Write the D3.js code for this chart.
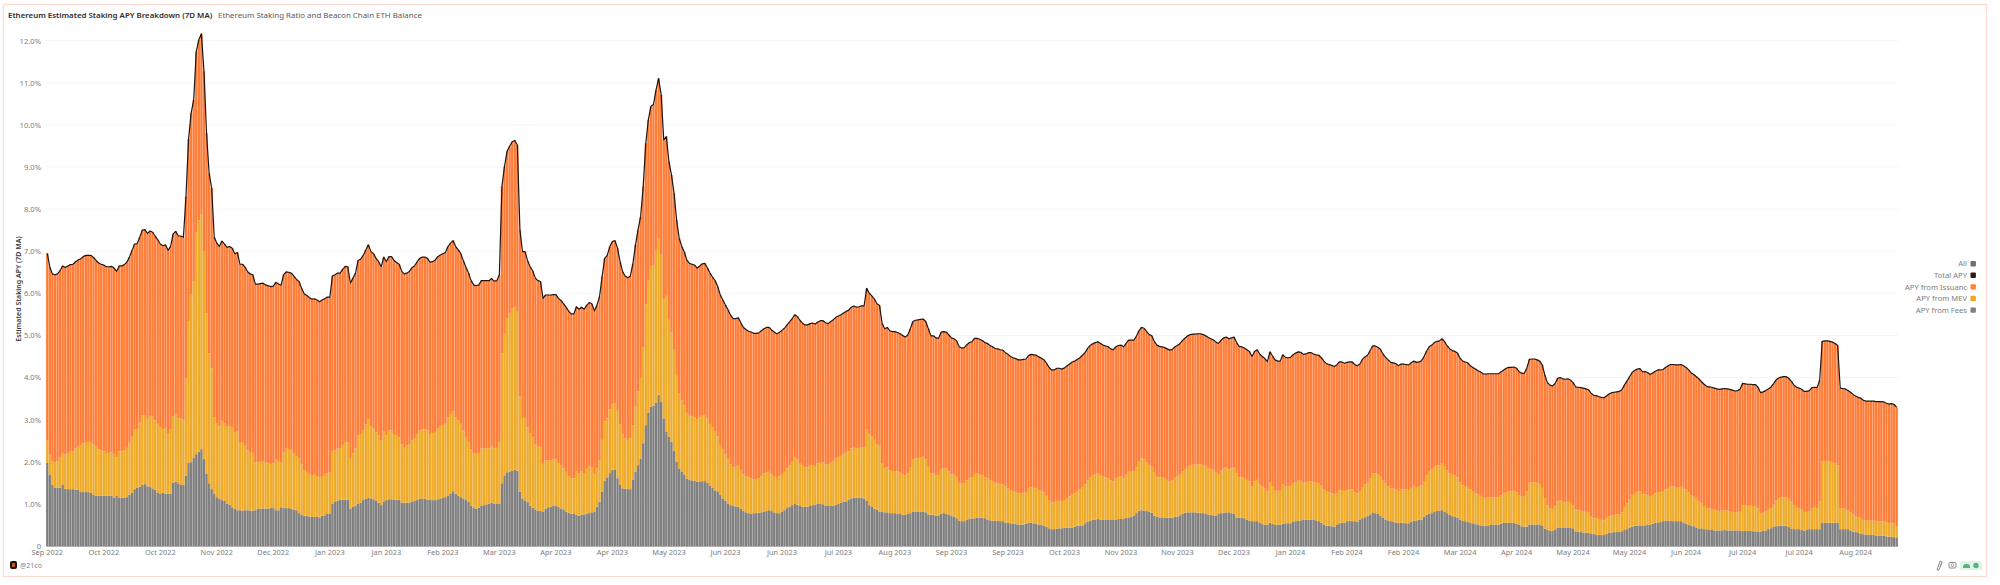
<!DOCTYPE html>
<html>
<head>
<meta charset="utf-8">
<script src="https://cdnjs.cloudflare.com/ajax/libs/d3/7.8.5/d3.min.js"></script>
<style>
  html, body { margin: 0; padding: 0; background: #fff; }
  svg { display: block; }
  text { font-family: "Noto Sans", sans-serif; }
</style>
</head>
<body>
<svg id="chart" width="2000" height="585"></svg>
<script>
const titleLeft = "Ethereum Estimated Staking APY Breakdown (7D MA)";
const titleRight = "Ethereum Staking Ratio and Beacon Chain ETH Balance";
const yAxisTitle = "Estimated Staking APY (7D MA)";

const yTicks = [0, 1, 2, 3, 4, 5, 6, 7, 8, 9, 10, 11, 12];
const xTickLabels = ["Sep 2022", "Oct 2022", "Oct 2022", "Nov 2022", "Dec 2022", "Jan 2023", "Jan 2023", "Feb 2023", "Mar 2023", "Apr 2023", "Apr 2023", "May 2023", "Jun 2023", "Jun 2023", "Jul 2023", "Aug 2023", "Sep 2023", "Sep 2023", "Oct 2023", "Nov 2023", "Nov 2023", "Dec 2023", "Jan 2024", "Feb 2024", "Feb 2024", "Mar 2024", "Apr 2024", "May 2024", "May 2024", "Jun 2024", "Jul 2024", "Jul 2024", "Aug 2024"];
const legendLabels = ["All", "Total APY", "APY from Issuance", "APY from MEV", "APY from Fees"];
const legendColors = ["#6f6f6f", "#2b1a10", "#ff7f3a", "#f5a623", "#7f7f7f"];

// daily values (percent)
const apyFees = [
1.97,1.69,1.45,1.39,1.38,1.38,1.46,1.36,1.35,1.35,
1.35,1.34,1.34,1.28,1.28,1.28,1.28,1.26,1.21,1.20,
1.19,1.19,1.19,1.19,1.19,1.20,1.15,1.20,1.14,1.15,
1.15,1.16,1.22,1.26,1.35,1.38,1.41,1.45,1.47,1.42,
1.41,1.37,1.34,1.26,1.25,1.26,1.24,1.24,1.24,1.50,
1.53,1.49,1.46,1.45,1.67,1.98,1.99,2.10,2.18,2.24,
2.30,2.07,1.72,1.49,1.35,1.25,1.16,1.12,1.09,1.07,
1.00,0.98,0.92,0.89,0.85,0.85,0.84,0.85,0.85,0.84,
0.84,0.85,0.88,0.89,0.89,0.89,0.89,0.90,0.90,0.85,
0.85,0.92,0.91,0.90,0.90,0.88,0.86,0.85,0.78,0.75,
0.72,0.71,0.70,0.69,0.69,0.69,0.68,0.72,0.73,0.76,
0.76,1.01,1.06,1.07,1.10,1.10,1.10,1.10,0.89,0.93,
0.95,1.01,1.03,1.09,1.12,1.14,1.13,1.11,1.08,1.03,
0.97,1.06,1.09,1.11,1.11,1.10,1.10,1.09,1.03,1.03,
1.03,1.03,1.06,1.08,1.09,1.12,1.13,1.12,1.10,1.09,
1.09,1.09,1.11,1.12,1.14,1.16,1.20,1.25,1.30,1.24,
1.20,1.16,1.13,1.09,1.05,0.95,0.90,0.89,0.91,0.95,
0.97,0.99,1.00,1.03,1.01,1.01,1.01,1.49,1.68,1.75,
1.77,1.78,1.81,1.79,1.29,1.13,1.08,1.04,0.96,0.91,
0.87,0.84,0.83,0.82,0.89,0.92,0.93,0.95,0.95,0.93,
0.89,0.87,0.82,0.79,0.77,0.76,0.74,0.72,0.74,0.75,
0.77,0.78,0.80,0.82,0.93,1.05,1.29,1.55,1.63,1.73,
1.81,1.82,1.61,1.45,1.37,1.36,1.35,1.35,1.57,1.77,
1.92,2.08,2.44,2.87,3.17,3.31,3.33,3.40,3.59,3.43,
3.03,2.72,2.60,2.48,2.26,2.00,1.84,1.77,1.70,1.60,
1.57,1.56,1.55,1.53,1.52,1.54,1.54,1.50,1.44,1.38,
1.32,1.30,1.21,1.13,1.08,1.01,0.97,0.95,0.94,0.93,
0.89,0.83,0.80,0.78,0.77,0.78,0.78,0.79,0.80,0.82,
0.84,0.85,0.83,0.80,0.78,0.78,0.82,0.85,0.90,0.93,
0.97,1.01,0.98,0.95,0.93,0.93,0.93,0.95,0.97,0.98,
1.00,1.01,0.99,0.96,0.95,0.95,0.96,0.98,1.00,1.03,
1.05,1.06,1.10,1.13,1.15,1.15,1.15,1.15,1.13,1.08,
0.97,0.94,0.89,0.86,0.82,0.81,0.80,0.80,0.78,0.78,
0.78,0.77,0.76,0.74,0.74,0.76,0.78,0.81,0.82,0.82,
0.82,0.82,0.80,0.75,0.74,0.74,0.72,0.73,0.77,0.78,
0.77,0.75,0.71,0.70,0.66,0.60,0.59,0.59,0.62,0.64,
0.65,0.66,0.67,0.67,0.67,0.66,0.63,0.61,0.60,0.60,
0.60,0.59,0.59,0.56,0.55,0.54,0.53,0.52,0.51,0.51,
0.51,0.53,0.55,0.55,0.54,0.52,0.51,0.50,0.48,0.46,
0.42,0.40,0.40,0.41,0.42,0.42,0.43,0.43,0.44,0.44,
0.46,0.48,0.48,0.49,0.54,0.57,0.60,0.62,0.63,0.64,
0.63,0.63,0.63,0.63,0.63,0.63,0.63,0.64,0.64,0.64,
0.67,0.68,0.70,0.72,0.78,0.84,0.85,0.84,0.83,0.81,
0.79,0.72,0.69,0.68,0.68,0.68,0.67,0.67,0.67,0.69,
0.70,0.73,0.77,0.79,0.80,0.80,0.80,0.80,0.79,0.79,
0.78,0.76,0.75,0.74,0.73,0.72,0.76,0.78,0.79,0.80,
0.80,0.78,0.77,0.68,0.67,0.67,0.66,0.62,0.60,0.59,
0.59,0.59,0.55,0.52,0.51,0.50,0.55,0.53,0.50,0.50,
0.51,0.53,0.54,0.54,0.54,0.57,0.59,0.60,0.61,0.62,
0.62,0.62,0.62,0.62,0.61,0.59,0.55,0.51,0.48,0.48,
0.47,0.46,0.50,0.54,0.55,0.55,0.59,0.60,0.59,0.59,
0.58,0.63,0.66,0.68,0.71,0.75,0.80,0.78,0.76,0.71,
0.67,0.63,0.61,0.59,0.57,0.56,0.55,0.55,0.55,0.54,
0.54,0.58,0.60,0.61,0.62,0.62,0.70,0.74,0.77,0.78,
0.82,0.83,0.84,0.85,0.82,0.78,0.74,0.71,0.69,0.67,
0.63,0.60,0.59,0.58,0.55,0.54,0.52,0.51,0.49,0.48,
0.48,0.49,0.50,0.50,0.51,0.51,0.53,0.55,0.55,0.55,
0.55,0.55,0.53,0.50,0.47,0.46,0.46,0.51,0.51,0.51,
0.51,0.50,0.49,0.41,0.38,0.36,0.36,0.38,0.43,0.44,
0.44,0.44,0.44,0.44,0.42,0.35,0.34,0.33,0.32,0.32,
0.31,0.30,0.29,0.26,0.26,0.26,0.26,0.29,0.32,0.32,
0.33,0.33,0.34,0.35,0.38,0.40,0.44,0.46,0.48,0.48,
0.49,0.49,0.49,0.50,0.51,0.53,0.55,0.55,0.58,0.59,
0.60,0.60,0.60,0.59,0.59,0.59,0.59,0.55,0.53,0.50,
0.48,0.47,0.44,0.42,0.42,0.40,0.40,0.39,0.38,0.37,
0.37,0.37,0.37,0.38,0.37,0.37,0.37,0.37,0.37,0.36,
0.36,0.36,0.36,0.36,0.35,0.35,0.34,0.34,0.36,0.37,
0.40,0.42,0.45,0.47,0.48,0.48,0.48,0.48,0.45,0.41,
0.40,0.40,0.40,0.38,0.36,0.38,0.40,0.40,0.40,0.40,
0.40,0.56,0.55,0.55,0.55,0.55,0.55,0.55,0.40,0.40,
0.40,0.40,0.37,0.34,0.33,0.31,0.29,0.28,0.27,0.27,
0.27,0.26,0.25,0.25,0.24,0.24,0.23,0.22,0.22,0.21,
0.19];

const apyMev = [
0.53,0.48,0.56,0.60,0.63,0.72,0.75,0.81,0.86,0.89,
0.90,0.98,1.02,1.11,1.16,1.19,1.19,1.21,1.21,1.16,
1.11,1.08,1.06,1.02,1.02,1.02,1.03,0.91,1.10,1.09,
1.12,1.17,1.23,1.35,1.41,1.40,1.52,1.65,1.64,1.60,
1.68,1.70,1.64,1.64,1.56,1.51,1.56,1.43,1.53,1.57,
1.60,1.54,1.57,1.55,2.31,3.36,3.98,4.19,5.26,5.49,
5.58,4.92,3.80,3.08,2.87,1.81,1.76,1.72,1.88,1.84,
1.83,1.87,1.90,1.80,1.87,1.60,1.61,1.53,1.42,1.39,
1.37,1.14,1.11,1.12,1.13,1.09,1.07,1.05,1.06,1.20,
1.16,1.06,1.32,1.41,1.40,1.40,1.35,1.28,1.31,1.18,
1.08,1.05,1.01,0.99,1.00,0.97,0.94,0.94,0.96,0.97,
0.98,1.23,1.21,1.24,1.21,1.30,1.37,1.36,1.18,1.27,
1.37,1.61,1.63,1.66,1.77,1.87,1.72,1.69,1.62,1.59,
1.53,1.67,1.54,1.64,1.64,1.56,1.52,1.49,1.38,1.32,
1.35,1.39,1.45,1.47,1.57,1.62,1.64,1.65,1.65,1.57,
1.58,1.62,1.69,1.72,1.73,1.74,1.85,1.88,1.89,1.82,
1.79,1.74,1.61,1.50,1.41,1.34,1.30,1.30,1.30,1.36,
1.35,1.33,1.32,1.34,1.31,1.32,1.46,3.08,3.36,3.66,
3.76,3.86,3.86,3.77,2.26,1.91,1.96,1.78,1.72,1.68,
1.55,1.52,1.51,1.13,1.14,1.11,1.10,1.10,1.10,1.03,
1.03,0.97,0.94,0.87,0.84,0.85,1.04,1.00,1.04,0.98,
1.06,1.11,1.06,0.88,0.91,0.99,1.23,1.41,1.40,1.51,
1.55,1.57,1.60,1.44,1.28,1.20,1.17,1.21,1.29,1.54,
1.75,1.91,2.27,2.87,3.13,3.32,3.34,3.63,3.71,3.49,
2.82,3.22,2.77,2.59,2.40,2.04,1.79,1.68,1.64,1.56,
1.52,1.52,1.51,1.47,1.53,1.57,1.58,1.52,1.46,1.43,
1.41,1.30,1.19,1.16,1.09,1.06,0.97,0.92,0.94,0.98,
0.91,0.87,0.86,0.85,0.84,0.81,0.81,0.82,0.86,0.90,
0.91,0.91,0.87,0.86,0.84,0.88,0.89,0.91,0.95,0.99,
1.03,1.09,1.08,1.02,0.98,0.94,0.94,0.96,0.95,0.92,
0.96,0.98,1.00,0.98,0.98,1.03,1.06,1.10,1.11,1.11,
1.13,1.16,1.15,1.19,1.20,1.17,1.18,1.20,1.22,1.69,
1.69,1.66,1.63,1.56,1.56,1.16,1.04,1.07,1.02,1.00,
1.00,1.00,0.98,0.96,0.93,0.96,1.09,1.24,1.26,1.27,
1.29,1.30,1.26,1.15,0.99,0.99,0.97,0.95,1.06,1.07,
1.07,1.02,0.99,0.99,0.98,0.90,0.89,0.90,0.94,0.97,
0.98,1.05,1.05,1.03,1.00,0.97,0.98,0.95,0.93,0.90,
0.89,0.88,0.87,0.85,0.82,0.78,0.76,0.76,0.74,0.74,
0.75,0.75,0.81,0.84,0.84,0.85,0.82,0.81,0.79,0.73,
0.67,0.63,0.63,0.66,0.65,0.64,0.66,0.71,0.74,0.79,
0.79,0.81,0.86,0.91,0.92,0.99,1.03,1.05,1.07,1.08,
1.05,1.02,1.00,0.98,0.93,0.91,0.98,1.00,1.01,0.97,
1.02,1.10,1.08,1.06,1.09,1.16,1.23,1.22,1.15,1.10,
1.09,1.02,0.97,0.95,0.94,0.92,0.90,0.87,0.89,0.93,
0.95,0.97,1.00,1.04,1.08,1.11,1.13,1.13,1.15,1.15,
1.14,1.13,1.10,1.08,1.06,1.02,0.95,1.01,1.05,1.06,
1.02,1.06,1.09,1.05,0.97,0.96,0.95,0.95,0.93,0.82,
0.94,0.98,0.92,0.89,0.85,0.79,0.97,0.89,0.83,0.81,
0.80,0.94,0.88,0.87,0.88,0.91,0.93,0.95,0.94,0.88,
0.89,0.92,0.92,0.89,0.88,0.90,0.88,0.84,0.81,0.79,
0.78,0.76,0.76,0.79,0.78,0.75,0.73,0.74,0.75,0.69,
0.67,0.66,0.74,0.78,0.79,0.86,0.92,0.95,0.94,0.95,
0.88,0.85,0.81,0.77,0.79,0.78,0.75,0.79,0.79,0.80,
0.79,0.80,0.83,0.79,0.79,0.82,0.84,0.93,1.01,1.04,
1.06,1.08,1.08,1.12,1.08,1.02,0.99,0.98,0.98,0.96,
0.88,0.84,0.83,0.82,0.79,0.76,0.74,0.71,0.70,0.67,
0.66,0.66,0.65,0.65,0.64,0.64,0.67,0.69,0.73,0.75,
0.75,0.76,0.75,0.71,0.70,0.71,0.83,0.99,1.00,1.00,
0.99,0.97,0.89,0.73,0.58,0.54,0.52,0.56,0.63,0.64,
0.61,0.60,0.61,0.58,0.54,0.51,0.51,0.51,0.51,0.49,
0.48,0.41,0.37,0.40,0.38,0.36,0.35,0.36,0.38,0.41,
0.41,0.42,0.42,0.45,0.53,0.61,0.67,0.75,0.78,0.81,
0.81,0.74,0.74,0.71,0.66,0.68,0.70,0.73,0.70,0.70,
0.74,0.78,0.81,0.82,0.81,0.81,0.82,0.83,0.81,0.78,
0.73,0.70,0.68,0.65,0.59,0.55,0.50,0.50,0.50,0.49,
0.47,0.46,0.47,0.47,0.47,0.46,0.44,0.42,0.43,0.47,
0.61,0.60,0.59,0.60,0.60,0.60,0.55,0.43,0.43,0.45,
0.46,0.48,0.53,0.61,0.65,0.67,0.68,0.68,0.67,0.64,
0.56,0.51,0.49,0.48,0.45,0.43,0.43,0.50,0.51,0.50,
0.67,1.45,1.47,1.47,1.46,1.44,1.41,1.36,0.50,0.49,
0.48,0.44,0.43,0.41,0.38,0.37,0.38,0.34,0.33,0.33,
0.33,0.34,0.34,0.34,0.35,0.34,0.33,0.32,0.33,0.32,
0.27];

const apyIssuance = [
4.45,4.45,4.45,4.45,4.45,4.44,4.44,4.44,4.44,4.44,
4.44,4.43,4.43,4.43,4.43,4.43,4.43,4.43,4.43,4.42,
4.42,4.42,4.42,4.42,4.42,4.42,4.42,4.41,4.41,4.41,
4.41,4.41,4.41,4.41,4.41,4.40,4.40,4.40,4.40,4.40,
4.39,4.38,4.38,4.37,4.36,4.36,4.35,4.35,4.34,4.34,
4.34,4.33,4.33,4.33,4.32,4.32,4.31,4.30,4.30,4.29,
4.28,4.28,4.28,4.28,4.28,4.27,4.27,4.27,4.27,4.26,
4.26,4.26,4.25,4.25,4.25,4.24,4.24,4.24,4.24,4.23,
4.23,4.23,4.23,4.22,4.22,4.22,4.22,4.21,4.21,4.21,
4.21,4.21,4.21,4.20,4.20,4.20,4.20,4.20,4.19,4.19,
4.19,4.19,4.19,4.18,4.18,4.18,4.18,4.18,4.18,4.18,
4.17,4.17,4.17,4.17,4.17,4.17,4.17,4.17,4.17,4.16,
4.16,4.16,4.15,4.15,4.14,4.14,4.14,4.14,4.13,4.13,
4.13,4.13,4.12,4.12,4.12,4.12,4.11,4.11,4.11,4.11,
4.10,4.10,4.10,4.10,4.09,4.09,4.09,4.09,4.08,4.08,
4.08,4.08,4.07,4.07,4.07,4.07,4.06,4.06,4.06,4.05,
4.04,4.04,4.03,4.03,4.02,4.01,4.00,3.99,3.99,3.99,
3.98,3.98,3.98,3.98,3.97,3.97,3.97,3.97,3.97,3.96,
3.96,3.96,3.96,3.96,3.96,3.95,3.95,3.95,3.95,3.94,
3.94,3.94,3.94,3.93,3.93,3.93,3.93,3.92,3.92,3.92,
3.91,3.91,3.91,3.91,3.90,3.90,3.90,3.90,3.89,3.89,
3.89,3.89,3.89,3.88,3.88,3.88,3.88,3.87,3.87,3.87,
3.87,3.86,3.86,3.86,3.86,3.85,3.85,3.85,3.85,3.84,
3.84,3.83,3.83,3.82,3.82,3.81,3.81,3.80,3.80,3.79,
3.79,3.78,3.76,3.74,3.72,3.70,3.68,3.66,3.64,3.63,
3.62,3.61,3.61,3.60,3.60,3.59,3.59,3.58,3.58,3.57,
3.57,3.56,3.56,3.55,3.55,3.54,3.54,3.53,3.52,3.51,
3.50,3.49,3.48,3.47,3.47,3.46,3.46,3.45,3.45,3.44,
3.44,3.43,3.43,3.42,3.42,3.41,3.41,3.41,3.40,3.40,
3.40,3.39,3.39,3.39,3.38,3.38,3.38,3.37,3.37,3.37,
3.36,3.36,3.36,3.36,3.35,3.35,3.35,3.35,3.35,3.35,
3.35,3.35,3.35,3.35,3.35,3.35,3.35,3.35,3.35,3.35,
3.34,3.34,3.34,3.33,3.33,3.32,3.32,3.32,3.31,3.31,
3.31,3.30,3.30,3.30,3.29,3.29,3.29,3.28,3.28,3.28,
3.27,3.27,3.27,3.26,3.26,3.26,3.25,3.25,3.25,3.24,
3.24,3.24,3.24,3.23,3.23,3.23,3.22,3.22,3.22,3.22,
3.22,3.22,3.21,3.21,3.21,3.20,3.20,3.20,3.20,3.19,
3.19,3.19,3.19,3.18,3.18,3.18,3.18,3.17,3.17,3.17,
3.17,3.16,3.16,3.16,3.16,3.16,3.16,3.15,3.15,3.15,
3.15,3.15,3.15,3.15,3.15,3.14,3.14,3.14,3.14,3.14,
3.14,3.14,3.13,3.13,3.13,3.13,3.13,3.13,3.13,3.13,
3.13,3.12,3.12,3.12,3.12,3.12,3.12,3.12,3.12,3.12,
3.12,3.11,3.11,3.11,3.11,3.11,3.11,3.11,3.11,3.11,
3.11,3.11,3.11,3.11,3.11,3.11,3.11,3.11,3.11,3.11,
3.11,3.11,3.11,3.11,3.11,3.11,3.10,3.10,3.10,3.10,
3.10,3.10,3.10,3.10,3.10,3.10,3.10,3.10,3.10,3.10,
3.10,3.10,3.10,3.10,3.10,3.10,3.09,3.09,3.09,3.09,
3.09,3.09,3.09,3.09,3.09,3.09,3.09,3.09,3.09,3.08,
3.08,3.07,3.06,3.06,3.06,3.06,3.06,3.06,3.05,3.05,
3.05,3.05,3.05,3.05,3.05,3.04,3.04,3.04,3.04,3.04,
3.04,3.04,3.04,3.04,3.04,3.04,3.04,3.03,3.03,3.03,
3.03,3.03,3.03,3.03,3.03,3.03,3.03,3.02,3.02,3.01,
3.01,3.00,3.00,3.00,2.99,2.99,2.98,2.98,2.98,2.97,
2.97,2.97,2.96,2.96,2.96,2.96,2.96,2.96,2.95,2.95,
2.95,2.95,2.95,2.95,2.95,2.95,2.95,2.95,2.95,2.95,
2.95,2.95,2.95,2.95,2.94,2.94,2.94,2.94,2.94,2.94,
2.94,2.94,2.94,2.94,2.94,2.94,2.94,2.94,2.94,2.94,
2.94,2.94,2.94,2.93,2.93,2.93,2.93,2.93,2.93,2.93,
2.92,2.92,2.92,2.92,2.92,2.92,2.92,2.92,2.92,2.92,
2.92,2.92,2.92,2.92,2.92,2.92,2.92,2.92,2.92,2.92,
2.92,2.92,2.92,2.91,2.91,2.91,2.91,2.91,2.91,2.91,
2.91,2.91,2.91,2.91,2.91,2.91,2.91,2.91,2.91,2.91,
2.91,2.91,2.91,2.91,2.90,2.90,2.90,2.90,2.90,2.90,
2.90,2.90,2.90,2.90,2.90,2.90,2.90,2.90,2.90,2.90,
2.90,2.90,2.90,2.90,2.89,2.89,2.89,2.89,2.89,2.89,
2.89,2.89,2.89,2.89,2.89,2.89,2.89,2.89,2.89,2.89,
2.89,2.89,2.89,2.88,2.88,2.88,2.88,2.87,2.87,2.87,
2.87,2.87,2.87,2.86,2.86,2.86,2.86,2.86,2.86,2.86,
2.86,2.86,2.86,2.86,2.86,2.86,2.86,2.86,2.86,2.86,
2.86,2.85,2.85,2.85,2.85,2.85,2.85,2.85,2.85,2.85,
2.85,2.85,2.85,2.85,2.85,2.85,2.84,2.84,2.84,2.84,
2.84,2.84,2.84,2.84,2.84,2.84,2.83,2.83,2.83,2.83,
2.83];

const seriesKeys = ["fees", "mev", "issuance"];
const seriesColors = { fees: "#808080", mev: "#eeaa28", issuance: "#ff7d38" };

const table = apyFees.map((d, i) => ({ i: i, fees: d, mev: apyMev[i], issuance: apyIssuance[i] }));
const apyTotal = table.map(d => d.fees + d.mev + d.issuance);

const svg = d3.select("#chart");

// outer frame
svg.append("rect")
  .attr("x", 3.5).attr("y", 4.5).attr("width", 1983).attr("height", 572)
  .attr("fill", "none").attr("stroke", "#ffd9cf").attr("stroke-width", 1.2);

const x = d3.scaleBand()
  .domain(table.map(d => d.i))
  .range([46, 1898])
  .paddingInner(0.08)
  .paddingOuter(0.04);

const y = d3.scaleLinear()
  .domain([0, 12])
  .range([546, 40.6]);

// grid
svg.append("g")
  .selectAll("line")
  .data(yTicks.slice(1))
  .enter()
  .append("line")
  .attr("x1", 46).attr("x2", 1898)
  .attr("y1", d => y(d)).attr("y2", d => y(d))
  .attr("stroke", "#f5f5f5");

// stacked bars
const stacked = d3.stack().keys(seriesKeys)(table);
svg.append("g")
  .selectAll("g")
  .data(stacked)
  .enter()
  .append("g")
  .attr("fill", d => seriesColors[d.key])
  .selectAll("rect")
  .data(d => d)
  .enter()
  .append("rect")
  .attr("x", d => x(d.data.i))
  .attr("y", d => y(d[1]))
  .attr("width", x.bandwidth())
  .attr("height", d => y(d[0]) - y(d[1]));

// total line
const line = d3.line()
  .x((d, i) => x(i) + x.bandwidth() / 2)
  .y(d => y(d));
svg.append("path")
  .attr("d", line(apyTotal))
  .attr("fill", "none")
  .attr("stroke", "#1c1512")
  .attr("stroke-width", 1.2)
  .attr("stroke-linejoin", "round");

// axes
const yAxis = d3.axisLeft(y)
  .tickValues(yTicks)
  .tickSize(0)
  .tickPadding(5)
  .tickFormat(d => d === 0 ? "0" : d.toFixed(1) + "%");
const gy = svg.append("g").attr("transform", "translate(46,0)").call(yAxis);
gy.select(".domain").remove();
gy.selectAll("text").style("font-size", "7.6px").attr("fill", "#7d7d7d");

const xAxis = d3.axisBottom(x)
  .tickValues(xTickLabels.map((d, i) => i * 22))
  .tickSize(0)
  .tickPadding(4)
  .tickFormat(d => xTickLabels[d / 22]);
const gx = svg.append("g").attr("transform", "translate(0,546)").call(xAxis);
gx.select(".domain").attr("stroke", "#b0b0b0");
gx.selectAll("text").style("font-size", "7.4px").attr("fill", "#7d7d7d");

// titles
svg.append("text").attr("x", 8).attr("y", 17.5)
  .style("font-size", "7.9px").style("font-weight", 600).attr("fill", "#2e2e2e")
  .text(titleLeft);
svg.append("text").attr("x", 218).attr("y", 17.5)
  .style("font-size", "7.9px").attr("fill", "#5a5a5a")
  .text(titleRight);
svg.append("text")
  .attr("transform", "translate(21,289)rotate(-90)")
  .attr("text-anchor", "middle")
  .style("font-size", "7px").style("font-weight", 600).attr("fill", "#3a3a3a")
  .text(yAxisTitle);

// legend, the long label is cut off at the right like in the original
svg.append("clipPath").attr("id", "legendClip")
  .append("rect").attr("x", 1880).attr("y", -7).attr("width", 87.5).attr("height", 14);
const legend = svg.append("g").selectAll("g")
  .data(legendLabels)
  .enter()
  .append("g")
  .attr("transform", (d, i) => "translate(0," + (263.7 + i * 11.6) + ")");
legend.append("text")
  .attr("clip-path", "url(#legendClip)")
  .attr("x", d => d === "APY from Issuance" ? 1905 : 1967)
  .attr("y", 2.7)
  .attr("text-anchor", d => d === "APY from Issuance" ? "start" : "end")
  .style("font-size", "7.6px").attr("fill", "#7d7d7d")
  .text(d => d);
legend.append("rect")
  .attr("x", 1970.5).attr("y", -2.7).attr("width", 5.4).attr("height", 5.4).attr("rx", 1)
  .attr("fill", (d, i) => legendColors[i]);

// footer
svg.append("rect").attr("x", 10).attr("y", 561).attr("width", 7).attr("height", 8).attr("rx", 2).attr("fill", "#1d1410");
svg.append("rect").attr("x", 12).attr("y", 563).attr("width", 3).attr("height", 4).attr("fill", "#c4571f");
svg.append("text").attr("x", 20).attr("y", 568)
  .style("font-size", "7px").attr("fill", "#858585").text("@21co");

// toolbar icons
svg.append("path").attr("d", "M1937 570l3-9 2 1-3 8z M1940 567l2-5").attr("fill", "none").attr("stroke", "#8c8c8c").attr("stroke-width", 1);
svg.append("rect").attr("x", 1949).attr("y", 562.5).attr("width", 7).attr("height", 5.5).attr("rx", 1).attr("fill", "none").attr("stroke", "#8c8c8c");
svg.append("circle").attr("cx", 1952.5).attr("cy", 565.2).attr("r", 1.4).attr("fill", "none").attr("stroke", "#8c8c8c").attr("stroke-width", 0.8);
svg.append("rect").attr("x", 1960).attr("y", 561).attr("width", 22).attr("height", 9).attr("rx", 1.5).attr("fill", "#dcf6e4");
svg.append("path").attr("d", "M1963 568v-2a3 3 0 0 1 3-2h1a3 3 0 0 1 3 2v2z").attr("fill", "#5fae7f");
svg.append("circle").attr("cx", 1976).attr("cy", 565.5).attr("r", 2.7).attr("fill", "#5fae7f");
</script>
</body>
</html>
